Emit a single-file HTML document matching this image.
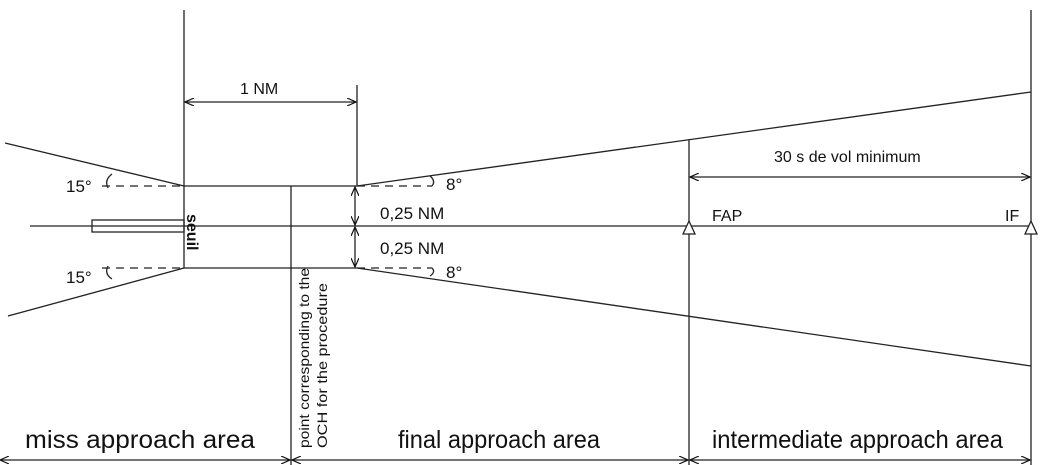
<!DOCTYPE html><html><head><style>body{margin:0;background:#fff}svg{display:block}text{font-family:"Liberation Sans",sans-serif;fill:#111}</style></head><body>
<svg width="1045" height="465" viewBox="0 0 1045 465" xmlns="http://www.w3.org/2000/svg">
<defs><marker id="a" markerWidth="10" markerHeight="8" refX="9" refY="4" orient="auto-start-reverse" markerUnits="userSpaceOnUse"><path d="M0,0 L9,4 L0,8" fill="none" stroke="#111" stroke-width="1.2"/></marker></defs>
<g stroke="#222" stroke-width="1.3" fill="none">
<line x1="184" y1="10" x2="184" y2="268"/>
<line x1="357" y1="85" x2="357" y2="186"/>
<line x1="291" y1="186" x2="291" y2="465"/>
<line x1="689" y1="140" x2="689" y2="465"/>
<line x1="1031" y1="10" x2="1031" y2="465"/>
<line x1="30" y1="226" x2="1031" y2="226"/>
<line x1="184" y1="186" x2="357" y2="186"/>
<line x1="184" y1="268" x2="357" y2="268"/>
<rect x="92" y="220" width="92" height="12"/>
<line x1="5" y1="143" x2="184" y2="186"/>
<line x1="8" y1="316" x2="184" y2="268"/>
<line x1="357" y1="186" x2="1031" y2="92"/>
<line x1="357" y1="268" x2="1031" y2="366"/>
<g stroke-dasharray="8,6"><line x1="102" y1="186" x2="184" y2="186"/><line x1="102" y1="268" x2="184" y2="268"/><line x1="357" y1="186" x2="432" y2="186"/><line x1="357" y1="268" x2="432" y2="268"/></g>
<path d="M112,174 Q104,180 108,188"/><path d="M112,279 Q104,274 108,266"/>
<path d="M430,176 Q436,181 432,186"/><path d="M430,276 Q436,272 432,268"/>
<g marker-start="url(#a)" marker-end="url(#a)">
<line x1="185" y1="102" x2="356" y2="102"/>
<line x1="690" y1="177" x2="1030" y2="177"/>
<line x1="355" y1="187" x2="355" y2="225"/>
<line x1="355" y1="227" x2="355" y2="267"/>
<line x1="0" y1="460" x2="290" y2="460"/>
<line x1="292" y1="460" x2="688" y2="460"/>
<line x1="690" y1="460" x2="1030" y2="460"/>
</g>
<path d="M683,234 L689,221 L695,234 Z" fill="#fff"/>
<path d="M1025,234 L1031,221 L1037,234 Z" fill="#fff"/>
</g>
<text x="240" y="94" font-size="16">1 NM</text>
<text x="774" y="162" font-size="16">30 s de vol minimum</text>
<text x="380" y="219" font-size="17">0,25 NM</text>
<text x="380" y="254" font-size="17">0,25 NM</text>
<text x="712" y="221" font-size="16">FAP</text>
<text x="1005" y="221" font-size="16">IF</text>
<text x="66" y="192" font-size="17">15°</text>
<text x="66" y="283" font-size="17">15°</text>
<text x="446" y="190" font-size="17">8°</text>
<text x="446" y="278" font-size="17">8°</text>
<text transform="translate(187,214) rotate(90)" font-size="16" font-weight="bold">seuil</text>
<text transform="translate(309,448) rotate(-90)" font-size="14" textLength="180" lengthAdjust="spacingAndGlyphs">point corresponding to the</text>
<text transform="translate(327,448) rotate(-90)" font-size="14" textLength="165" lengthAdjust="spacingAndGlyphs">OCH for the procedure</text>
<g font-size="25">
<text x="25" y="448" textLength="230" lengthAdjust="spacingAndGlyphs">miss approach area</text>
<text x="398" y="448" textLength="202" lengthAdjust="spacingAndGlyphs">final approach area</text>
<text x="712" y="448" textLength="291" lengthAdjust="spacingAndGlyphs">intermediate approach area</text>
</g>
</svg></body></html>
